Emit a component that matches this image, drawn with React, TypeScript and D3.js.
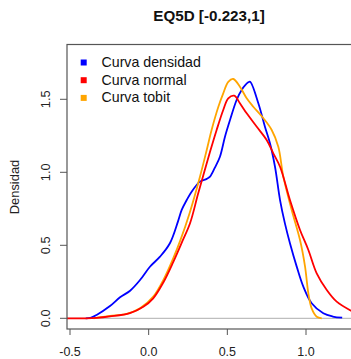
import React from "react";
import * as d3 from "d3";

const title = "EQ5D [-0.223,1]";
const yLabel = "Densidad";
const xTicks = [-0.5, 0.0, 0.5, 1.0];
const yTicks = [0.0, 0.5, 1.0, 1.5];
const seriesNames = ["Curva densidad", "Curva normal", "Curva tobit"];
const seriesColors = ["#0000FF", "#FF0000", "#FFA500"];

const densX = [-0.4, -0.37, -0.331, -0.246, -0.182, -0.118, -0.055, 0.008, 0.072, 0.135, 0.186, 0.21, 0.242, 0.273, 0.326, 0.369, 0.39, 0.42, 0.453, 0.485, 0.517, 0.559, 0.591, 0.633, 0.645, 0.697, 0.739, 0.771, 0.803, 0.835, 0.866, 0.898, 0.941, 0.983, 1.036, 1.11, 1.17, 1.23];
const densY = [0.0, 0.003, 0.023, 0.084, 0.144, 0.189, 0.262, 0.353, 0.422, 0.514, 0.662, 0.742, 0.81, 0.867, 0.936, 0.955, 0.97, 1.03, 1.107, 1.244, 1.358, 1.495, 1.564, 1.616, 1.62, 1.473, 1.312, 1.199, 1.038, 0.81, 0.65, 0.514, 0.354, 0.217, 0.103, 0.034, 0.012, 0.004];

const normX = [-0.52, -0.4, -0.33, -0.246, -0.119, -0.034, 0.029, 0.093, 0.156, 0.215, 0.263, 0.315, 0.39, 0.432, 0.474, 0.506, 0.544, 0.58, 0.623, 0.687, 0.75, 0.792, 0.835, 0.898, 0.962, 1.015, 1.068, 1.132, 1.195, 1.29];
const normY = [0.0, 0.0, 0.003, 0.013, 0.036, 0.079, 0.137, 0.245, 0.385, 0.53, 0.651, 0.856, 1.14, 1.29, 1.427, 1.507, 1.525, 1.473, 1.404, 1.312, 1.221, 1.13, 1.038, 0.81, 0.605, 0.468, 0.308, 0.194, 0.114, 0.05];

const tobitX = [-0.35, -0.246, -0.14, -0.055, 0.029, 0.093, 0.156, 0.2, 0.26, 0.326, 0.369, 0.4, 0.443, 0.474, 0.506, 0.538, 0.58, 0.623, 0.665, 0.729, 0.782, 0.824, 0.856, 0.909, 0.962, 0.994, 1.015, 1.036, 1.068, 1.1];
const tobitY = [0.0, 0.016, 0.03, 0.068, 0.148, 0.262, 0.411, 0.53, 0.72, 0.97, 1.153, 1.29, 1.449, 1.541, 1.62, 1.639, 1.586, 1.507, 1.449, 1.37, 1.29, 1.175, 0.97, 0.742, 0.536, 0.354, 0.171, 0.068, 0.011, 0.0];

const W = 351;
const H = 359;
const left = 67;
const top = 44.5;
const bottom = 329;

export default function App() {
  const x = d3.scaleLinear().domain([-0.5, 1.0]).range([70, 306]);
  const y = d3.scaleLinear().domain([0, 1.5]).range([318.3, 99.3]);
  const line = d3
    .line<[number, number]>()
    .x((d) => x(d[0]))
    .y((d) => y(d[1]))
    .curve(d3.curveCatmullRom.alpha(0.5));
  const series = [
    { xs: densX, ys: densY },
    { xs: normX, ys: normY },
    { xs: tobitX, ys: tobitY },
  ];
  const drawOrder = [0, 2, 1];
  const font = "'Liberation Sans', Arial, sans-serif";
  return (
    <svg
      width={W}
      height={H}
      style={{ position: "fixed", left: 0, top: 0, background: "#fff" }}
      fontFamily={font}
    >
      <defs>
        <clipPath id="plotclip">
          <rect x={left} y={top} width={W - left + 5} height={bottom - top} />
        </clipPath>
      </defs>
      <rect x={0} y={0} width={W} height={H} fill="#fff" />
      <text x={209} y={21} textAnchor="middle" fontSize={15.2} fontWeight="bold" fill="#111">
        {title}
      </text>
      <line x1={left} x2={W + 2} y1={y(0)} y2={y(0)} stroke="#bebebe" strokeWidth={1.2} />
      <g clipPath="url(#plotclip)">
        {drawOrder.map((i) => {
          const pts = series[i].xs.map((v, k) => [v, series[i].ys[k]] as [number, number]);
          return (
            <path key={i} d={line(pts) || ""} fill="none" stroke={seriesColors[i]} strokeWidth={1.8} strokeLinejoin="round" />
          );
        })}
      </g>
      <rect x={left} y={top} width={W - left + 10} height={bottom - top} fill="none" stroke="#555" strokeWidth={1.2} />
      {xTicks.map((t) => (
        <g key={"x" + t}>
          <line x1={x(t)} x2={x(t)} y1={bottom} y2={bottom + 6} stroke="#555" strokeWidth={1} />
          <text x={x(t)} y={355.5} textAnchor="middle" fontSize={12.5} fill="#222">
            {t.toFixed(1)}
          </text>
        </g>
      ))}
      {yTicks.map((t) => (
        <g key={"y" + t}>
          <line x1={left - 7} x2={left} y1={y(t)} y2={y(t)} stroke="#555" strokeWidth={1} />
          <text
            transform={`translate(${50},${y(t)}) rotate(-90)`}
            textAnchor="middle"
            fontSize={12.8}
            fill="#222"
          >
            {t.toFixed(1)}
          </text>
        </g>
      ))}
      <text transform={`translate(${19.3},${187}) rotate(-90)`} textAnchor="middle" fontSize={12.9} fill="#222">
        {yLabel}
      </text>
      {seriesNames.map((n, i) => (
        <g key={n}>
          <rect x={80.7} y={59.5 + i * 17.7} width={6} height={6} fill={seriesColors[i]} />
          <text x={101.5} y={67 + i * 17.7} fontSize={14.2} fill="#111">
            {n}
          </text>
        </g>
      ))}
    </svg>
  );
}
